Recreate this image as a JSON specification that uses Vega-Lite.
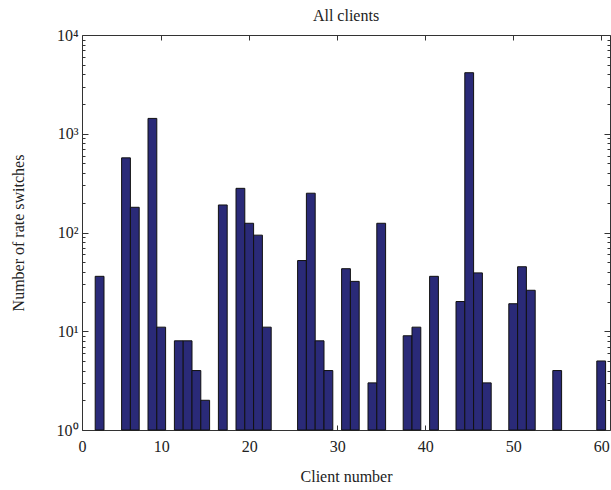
{
  "$schema": "https://vega.github.io/schema/vega-lite/v6.json",
  "width": 528,
  "height": 395,
  "autosize": {"type": "none"},
  "padding": {"left": 82, "top": 35, "right": 1, "bottom": 60},
  "config": {
    "font": "Liberation Serif",
    "view": {"stroke": null},
    "axis": {
      "grid": false,
      "domainColor": "#333333",
      "tickColor": "#333333",
      "labelColor": "#222222",
      "titleColor": "#222222",
      "labelFont": "Liberation Serif",
      "titleFont": "Liberation Serif",
      "labelFontSize": 16,
      "titleFontSize": 16,
      "titleFontWeight": "normal"
    }
  },
  "title": {"text": "All clients", "fontSize": 16, "fontWeight": "normal", "font": "Liberation Serif", "color": "#222222", "offset": 3},
  "data": {
    "values": [
      {"client": 3, "switches": 36},
      {"client": 6, "switches": 570},
      {"client": 7, "switches": 180},
      {"client": 9, "switches": 1430},
      {"client": 10, "switches": 11},
      {"client": 12, "switches": 8},
      {"client": 13, "switches": 8},
      {"client": 14, "switches": 4},
      {"client": 15, "switches": 2},
      {"client": 17, "switches": 190},
      {"client": 19, "switches": 280},
      {"client": 20, "switches": 124},
      {"client": 21, "switches": 94},
      {"client": 22, "switches": 11},
      {"client": 26, "switches": 52},
      {"client": 27, "switches": 250},
      {"client": 28, "switches": 8},
      {"client": 29, "switches": 4},
      {"client": 31, "switches": 43},
      {"client": 32, "switches": 32},
      {"client": 34, "switches": 3},
      {"client": 35, "switches": 124},
      {"client": 38, "switches": 9},
      {"client": 39, "switches": 11},
      {"client": 41, "switches": 36},
      {"client": 44, "switches": 20},
      {"client": 45, "switches": 4150},
      {"client": 46, "switches": 39},
      {"client": 47, "switches": 3},
      {"client": 50, "switches": 19},
      {"client": 51, "switches": 45},
      {"client": 52, "switches": 26},
      {"client": 55, "switches": 4},
      {"client": 60, "switches": 5}
    ]
  },
  "layer": [
    {
      "mark": {"type": "bar", "width": 8.8, "fill": "#2a2a78", "stroke": "#111111", "strokeWidth": 1},
      "encoding": {
        "x": {
          "field": "client", "type": "quantitative",
          "scale": {"domain": [1, 61], "nice": false, "zero": false, "padding": 0},
          "axis": {
            "orient": "bottom",
            "values": [1, 10, 20, 30, 40, 50, 60],
            "labelExpr": "datum.value == 1 ? '0' : datum.label",
            "labelFlush": false,
            "tickSize": -5,
            "labelPadding": 13,
            "title": "Client number",
            "titlePadding": 14
          }
        },
        "y": {
          "field": "switches", "type": "quantitative",
          "scale": {"type": "log", "domain": [1, 10000], "nice": false},
          "axis": {
            "orient": "left",
            "values": [1, 10, 100, 1000, 10000],
            "labelExpr": "datum.value == 1 ? '10⁰' : datum.value == 10 ? '10¹' : datum.value == 100 ? '10²' : datum.value == 1000 ? '10³' : '10⁴'",
            "labelFlush": false,
            "tickSize": -6,
            "labelPadding": 10,
            "title": "Number of rate switches",
            "titlePadding": 30
          }
        },
        "y2": {"datum": 1}
      }
    },
    {
      "mark": {"type": "bar", "width": 8.8, "fillOpacity": 0, "strokeOpacity": 0},
      "encoding": {
        "x": {"field": "client", "type": "quantitative", "axis": null},
        "y": {
          "field": "switches", "type": "quantitative",
          "axis": {
            "orient": "left",
            "values": [2, 3, 4, 5, 6, 7, 8, 9, 20, 30, 40, 50, 60, 70, 80, 90, 200, 300, 400, 500, 600, 700, 800, 900, 2000, 3000, 4000, 5000, 6000, 7000, 8000, 9000],
            "tickSize": -3,
            "labels": false,
            "domain": false,
            "title": null
          }
        }
      }
    },
    {
      "mark": {"type": "bar", "width": 8.8, "fillOpacity": 0, "strokeOpacity": 0},
      "encoding": {
        "x": {
          "field": "client", "type": "quantitative",
          "axis": {"orient": "top", "values": [10, 20, 30, 40, 50, 60], "tickSize": -5, "labels": false, "title": null}
        },
        "y": {
          "field": "switches", "type": "quantitative",
          "axis": {"orient": "right", "values": [1, 10, 100, 1000, 10000], "tickSize": -6, "labels": false, "title": null}
        }
      }
    },
    {
      "mark": {"type": "bar", "width": 8.8, "fillOpacity": 0, "strokeOpacity": 0},
      "encoding": {
        "x": {"field": "client", "type": "quantitative", "axis": null},
        "y": {
          "field": "switches", "type": "quantitative",
          "axis": {
            "orient": "right",
            "values": [2, 3, 4, 5, 6, 7, 8, 9, 20, 30, 40, 50, 60, 70, 80, 90, 200, 300, 400, 500, 600, 700, 800, 900, 2000, 3000, 4000, 5000, 6000, 7000, 8000, 9000],
            "tickSize": -3,
            "labels": false,
            "domain": false,
            "title": null
          }
        }
      }
    }
  ],
  "resolve": {"axis": {"x": "independent", "y": "independent"}}
}
